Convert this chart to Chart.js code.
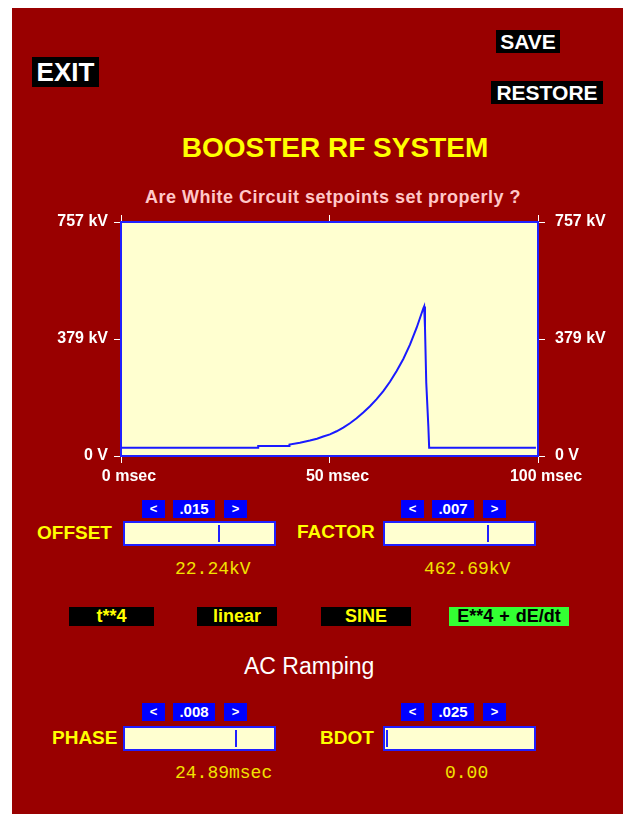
<!DOCTYPE html>
<html>
<head>
<meta charset="utf-8">
<script src="https://cdn.jsdelivr.net/npm/chart.js@4.4.1/dist/chart.umd.min.js"></script>
<style>
  html, body { margin:0; padding:0; background:#ffffff; width:634px; height:814px; overflow:hidden; }
  #panel { position:absolute; left:12px; top:8px; width:611px; height:806px; background:#990000; }
  .abs { position:absolute; box-sizing:border-box; white-space:nowrap; }
  .btn { background:#000; color:#fff; font-family:"Liberation Sans", Arial, sans-serif; font-weight:bold; text-align:center; }
  .blue { background:#0000ff; color:#fff; font-family:"Liberation Sans", Arial, sans-serif; font-weight:bold; font-size:13px; text-align:center; line-height:18px; height:18px; }
  .blue.num { font-size:15px; }
  .lbl { color:#ffff00; font-family:"Liberation Sans", Arial, sans-serif; font-weight:bold; font-size:19px; line-height:20px; }
  .slider { background:#ffffd0; border:2px solid #2020ff; height:25px; width:153px; }
  .knob { position:absolute; top:2px; width:2px; height:17px; background:#2020ff; }
  .val { color:#f2e200; font-family:"Liberation Mono", "DejaVu Sans Mono", monospace; font-size:18px; line-height:20px; }
  .tog { background:#000; color:#ffff00; font-family:"Liberation Sans", Arial, sans-serif; font-weight:bold; font-size:18px; line-height:19px; height:19px; text-align:center; }
  #chartBox { position:absolute; left:30px; top:200px; width:600px; height:290px; }
</style>
</head>
<body>
<div id="panel"></div>

<div class="abs btn" style="left:32px;top:57px;width:67px;height:30px;font-size:26px;line-height:30px;">EXIT</div>
<div class="abs btn" style="left:496px;top:30px;width:64px;height:23px;font-size:21px;line-height:23px;">SAVE</div>
<div class="abs btn" style="left:491px;top:81px;width:112px;height:23px;font-size:21px;line-height:23px;">RESTORE</div>

<div class="abs" style="left:0;width:670px;top:132px;text-align:center;color:#ffff00;font-family:'Liberation Sans',Arial,sans-serif;font-weight:bold;font-size:28px;line-height:32px;">BOOSTER RF SYSTEM</div>
<div class="abs" style="left:0;width:666px;top:186px;text-align:center;color:#ffc8c8;font-family:'Liberation Sans',Arial,sans-serif;font-weight:bold;font-size:18px;letter-spacing:0.5px;line-height:22px;">Are White Circuit setpoints set properly ?</div>

<div id="chartBox"><canvas id="c" width="600" height="290"></canvas></div>

<!-- row 1 controls -->
<div class="abs blue" style="left:142px;top:500px;width:23px;">&lt;</div>
<div class="abs blue num" style="left:173px;top:500px;width:42px;">.015</div>
<div class="abs blue" style="left:224px;top:500px;width:23px;">&gt;</div>
<div class="abs blue" style="left:401px;top:500px;width:23px;">&lt;</div>
<div class="abs blue num" style="left:432px;top:500px;width:42px;">.007</div>
<div class="abs blue" style="left:483px;top:500px;width:23px;">&gt;</div>

<div class="abs lbl" style="left:37px;top:523px;">OFFSET</div>
<div class="abs slider" style="left:123px;top:521px;"><div class="knob" style="left:93px;"></div></div>
<div class="abs lbl" style="left:297px;top:522px;">FACTOR</div>
<div class="abs slider" style="left:383px;top:521px;"><div class="knob" style="left:102px;"></div></div>

<div class="abs val" style="left:175px;top:559px;">22.24kV</div>
<div class="abs val" style="left:424px;top:559px;">462.69kV</div>

<!-- toggles -->
<div class="abs tog" style="left:69px;top:607px;width:85px;">t**4</div>
<div class="abs tog" style="left:197px;top:607px;width:80px;">linear</div>
<div class="abs tog" style="left:321px;top:607px;width:90px;">SINE</div>
<div class="abs tog" style="left:449px;top:607px;width:120px;background:#33ff33;color:#000;word-spacing:1px;">E**4 + dE/dt</div>

<div class="abs" style="left:244px;top:653px;color:#fff;font-family:'Liberation Sans',Arial,sans-serif;font-size:23px;line-height:26px;">AC Ramping</div>

<!-- row 2 controls -->
<div class="abs blue" style="left:142px;top:703px;width:23px;">&lt;</div>
<div class="abs blue num" style="left:173px;top:703px;width:42px;">.008</div>
<div class="abs blue" style="left:224px;top:703px;width:23px;">&gt;</div>
<div class="abs blue" style="left:401px;top:703px;width:23px;">&lt;</div>
<div class="abs blue num" style="left:432px;top:703px;width:42px;">.025</div>
<div class="abs blue" style="left:483px;top:703px;width:23px;">&gt;</div>

<div class="abs lbl" style="left:52px;top:728px;">PHASE</div>
<div class="abs slider" style="left:123px;top:726px;"><div class="knob" style="left:110px;"></div></div>
<div class="abs lbl" style="left:320px;top:728px;">BDOT</div>
<div class="abs slider" style="left:383px;top:726px;"><div class="knob" style="left:1px;"></div></div>

<div class="abs val" style="left:175px;top:763px;">24.89msec</div>
<div class="abs val" style="left:445px;top:763px;">0.00</div>

<script>
// ---- data ----
const timeMs = [0.2, 32.9, 32.9, 40.4, 40.4, 42.9, 45.3, 47.0, 48.5, 50.1, 51.7, 53.3, 54.9, 56.5, 58.1, 59.7, 61.3, 62.9, 64.5, 66.1, 67.7, 69.3, 70.9, 72.5, 72.7, 72.9, 73.2, 73.7, 73.9, 99.5];
const voltsKV = [27, 27, 32, 32, 37, 43, 50, 56, 63, 70, 80, 92, 106, 122, 141, 161, 184, 210, 240, 275, 314, 360, 415, 478, 484, 415, 238, 97, 27, 27];
const xTickValues = [0, 50, 100];
const xTickLabels = ["0 msec", "50 msec", "100 msec"];
const yTickValues = [0, 378.5, 757];
const yTickLabels = ["0 V", "379 kV", "757 kV"];
const yMax = 757;

const points = timeMs.map((t, i) => ({ x: t, y: voltsKV[i] }));

const plotBg = {
  id: 'plotBg',
  beforeDraw(chart) {
    const { ctx, chartArea: a } = chart;
    ctx.save();
    ctx.fillStyle = '#ffffd0';
    ctx.fillRect(a.left, a.top, a.right - a.left, a.bottom - a.top);
    ctx.restore();
  }
};

const tickFont = { family: "'Liberation Sans', Arial, sans-serif", weight: 'bold', size: 16 };
const gridCommon = { drawOnChartArea: false, drawTicks: true, tickLength: 7, color: '#ffffff', lineWidth: 1 };
const borderCommon = { display: true, color: '#2020ff', width: 2 };

function xTicks(scale) { scale.ticks = xTickValues.map(v => ({ value: v })); }
function yTicks(scale) { scale.ticks = yTickValues.map(v => ({ value: v })); }

new Chart(document.getElementById('c'), {
  type: 'line',
  data: {
    datasets: [{
      data: points,
      borderColor: '#1a1aff',
      borderWidth: 2,
      pointRadius: 0,
      tension: 0,
      fill: false
    }]
  },
  plugins: [plotBg],
  options: {
    responsive: false,
    animation: false,
    events: [],
    layout: { padding: 0 },
    plugins: { legend: { display: false }, tooltip: { enabled: false } },
    scales: {
      x: {
        type: 'linear', position: 'bottom', min: 0, max: 100,
        afterBuildTicks: xTicks,
        afterFit: s => { s.height = 34; },
        grid: gridCommon, border: borderCommon,
        ticks: { color: '#ffffff', font: tickFont, padding: 4, maxRotation: 0, autoSkip: false, labelOffset: 8,
                 callback: (v) => xTickLabels[xTickValues.indexOf(v)] }
      },
      x2: {
        type: 'linear', position: 'top', min: 0, max: 100,
        afterBuildTicks: xTicks,
        afterFit: s => { s.height = 22; },
        grid: gridCommon, border: borderCommon,
        ticks: { display: false }
      },
      y: {
        type: 'linear', position: 'left', min: 0, max: yMax,
        afterBuildTicks: yTicks,
        afterFit: s => { s.width = 91; },
        grid: gridCommon, border: borderCommon,
        ticks: { color: '#ffffff', font: tickFont, padding: 6, autoSkip: false,
                 callback: (v) => yTickLabels[yTickValues.indexOf(v)] }
      },
      y2: {
        type: 'linear', position: 'right', min: 0, max: yMax,
        afterBuildTicks: yTicks,
        afterFit: s => { s.width = 92; },
        grid: gridCommon, border: borderCommon,
        ticks: { color: '#ffffff', font: tickFont, padding: 10, autoSkip: false,
                 callback: (v) => yTickLabels[yTickValues.indexOf(v)] }
      }
    }
  }
});
</script>
</body>
</html>
